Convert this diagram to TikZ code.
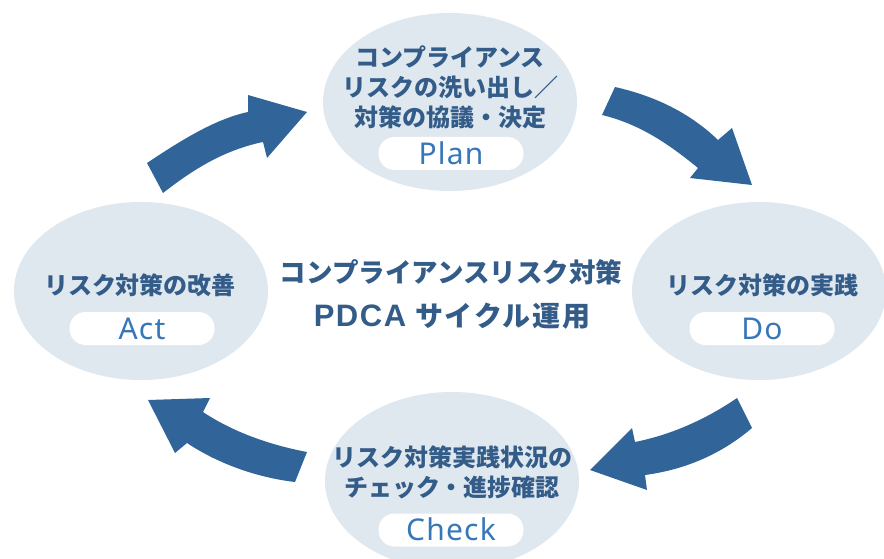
\documentclass[tikz,border=0pt]{standalone}
\usepackage{fontspec}
\setmainfont{Noto Sans}
\newfontfamily\jp{Noto Sans CJK JP}
\newfontfamily\lat{Liberation Sans}
\usetikzlibrary{shapes.geometric}
\definecolor{ellfill}{HTML}{DFE7EF}
\definecolor{txtdark}{HTML}{345C88}
\definecolor{pilltxt}{HTML}{3677BA}
\definecolor{arrowc}{HTML}{31659A}
\tikzset{
  stage/.style={ellipse, fill=ellfill, minimum width=254pt, minimum height=178pt, inner sep=0pt},
  stagetext/.style={font=\jp\bfseries\fontsize{24}{30}\selectfont, text=txtdark, align=center, inner sep=0pt},
  pill/.style={rounded corners=16pt, fill=white, minimum width=145pt, minimum height=33pt, inner sep=0pt,
    text=pilltxt, font=\fontsize{30}{30}\selectfont\addfontfeature{LetterSpace=4}, text height=21.4pt, text depth=0pt},
  titletext/.style={text=txtdark, inner sep=0pt},
  bigarrow/.style={fill=arrowc}
}
\begin{document}
\begin{tikzpicture}[x=1pt,y=-1pt]
\useasboundingbox (0,0) rectangle (884,559);
\clip (0,0) rectangle (884,559);
% stages
\node[stage] (plan) at (450,102) {};
\node[stage] (act) at (141,291) {};
\node[stage] (do) at (759,291) {};
\node[stage] (check) at (452,481) {};
% texts
\node[stagetext] (plantxt) at (450,87.5) {コンプライアンス\\リスクの洗い出し／\\対策の協議・決定};
\node[stagetext] (acttxt) at (140,285) {リスク対策の改善};
\node[stagetext] (dotxt) at (762,285) {リスク対策の実践};
\node[stagetext] (checktxt) at (452,472.5) {リスク対策実践状況の\\チェック・進捗確認};
% pills
\node[pill] (planlbl) at (451,153.5) {Plan};
\node[pill] (actlbl) at (142,328.5) {Act};
\node[pill] (dolbl) at (762,328.5) {Do};
\node[pill] (checklbl) at (451,530) {Check};
% title
\node[titletext, font=\jp\bfseries\fontsize{26.5}{30}\selectfont] (title1) at (451,272) {コンプライアンスリスク対策};
\node[titletext, font=\jp\bfseries\fontsize{28}{30}\selectfont] (title2) at (452,316)
  {{\lat\bfseries\fontsize{31}{30}\selectfont\addfontfeature{LetterSpace=5}PDCA}\hspace{9pt}{\addfontfeature{LetterSpace=6}サイクル運用}};
% arrows
% Act -> Plan
\fill[bigarrow] (147,163) .. controls (180,141) and (215,119) .. (248,112)
  -- (248,95) -- (307,112) -- (267,158) -- (263,142)
  .. controls (225,150) and (195,168) .. (163,193) -- cycle;
% Plan -> Do
\fill[bigarrow] (615,87) .. controls (655,96) and (690,113) .. (718,140)
  -- (732,128) -- (752,185) -- (690,178) -- (698,168)
  .. controls (670,145) and (640,124) .. (602,115) -- cycle;
% Do -> Check
\fill[bigarrow] (737,398) .. controls (705,420) and (670,435) .. (635,442)
  -- (632,428) -- (590,470) -- (647,490) -- (645,475)
  .. controls (690,469) and (725,451) .. (752,428) -- cycle;
% Check -> Act
\fill[bigarrow] (307,452) .. controls (265,444) and (230,430) .. (203,412)
  -- (210,398) -- (148,400) -- (175,453) -- (187,443)
  .. controls (220,465) and (260,478) .. (295,482) -- cycle;
\end{tikzpicture}
\end{document}
